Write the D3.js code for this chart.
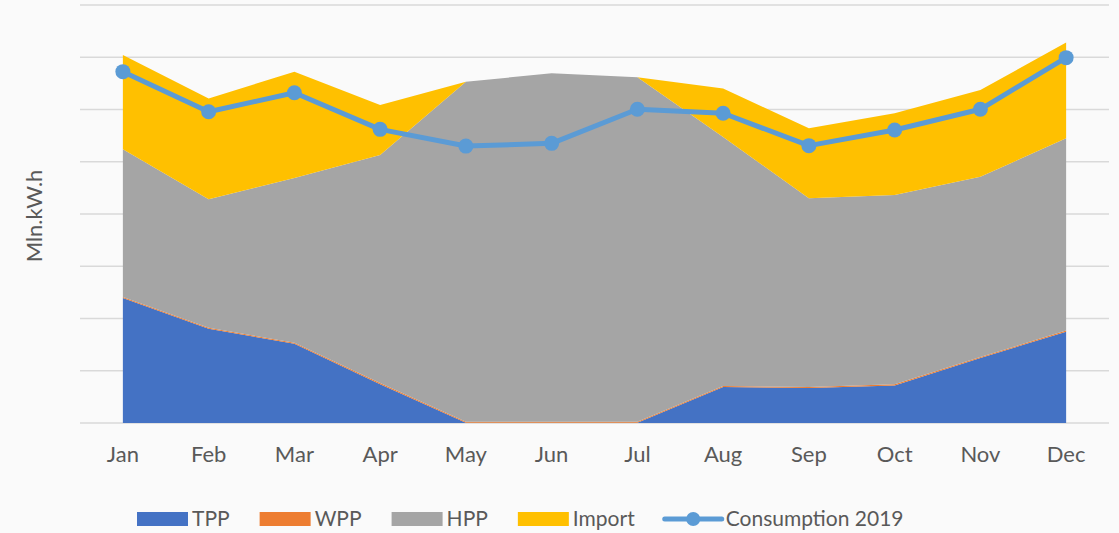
<!DOCTYPE html>
<html>
<head>
<meta charset="utf-8">
<script src="https://cdn.jsdelivr.net/npm/d3@7"></script>
<style>
  body { margin: 0; background: #fafafa; }
  svg { display: block; font-family: Lato, "Open Sans", sans-serif; }
</style>
</head>
<body>
<svg id="chart" width="1119" height="533"></svg>
<script>
// months on the category axis
const months = ["Jan", "Feb", "Mar", "Apr", "May", "Jun", "Jul", "Aug", "Sep", "Oct", "Nov", "Dec"];

// stacked sources, Mln.kW.h
const tpp = [598, 451, 379, 186, 1, 1, 1, 172, 167, 180, 311, 437];
const wpp = [5, 5, 5, 5, 5, 5, 5, 5, 5, 5, 5, 5];
const hpp = [707, 614, 788, 1091, 1627, 1667, 1648, 1191, 903, 906, 862, 920];
const imp = [451, 483, 509, 240, 0, 0, 0, 233, 335, 391, 415, 458];

// consumption line
const consumption = [1681, 1489, 1580, 1405, 1325, 1338, 1501, 1482, 1327, 1402, 1501, 1748];

const yTicks = [0, 250, 500, 750, 1000, 1250, 1500, 1750, 2000];

const seriesKeys = ["TPP", "WPP", "HPP", "Import"];
const colors = { TPP: "#4472C4", WPP: "#ED7D31", HPP: "#A5A5A5", Import: "#FFC000" };
const lineColor = "#5B9BD5";

const rows = months.map((m, i) => ({
  month: m, TPP: tpp[i], WPP: wpp[i], HPP: hpp[i], Import: imp[i], cons: consumption[i]
}));

const svg = d3.select("#chart");
const margin = { left: 80, right: 1109, top: 5, bottom: 423 };

const x = d3.scaleBand().domain(months).range([margin.left, margin.right]);
const cx = d => x(d.data ? d.data.month : d.month) + x.bandwidth() / 2;
const y = d3.scaleLinear().domain([0, 2000]).range([margin.bottom, margin.top]);

// gridlines
svg.append("g")
  .selectAll("line")
  .data(yTicks)
  .join("line")
  .attr("x1", margin.left).attr("x2", margin.right)
  .attr("y1", d => y(d)).attr("y2", d => y(d))
  .attr("stroke", "#d9d9d9")
  .attr("stroke-width", 1.3);

// stacked areas
const stack = d3.stack().keys(seriesKeys);
const layers = stack(rows);

const area = d3.area()
  .x(d => cx(d))
  .y0(d => y(d[0]))
  .y1(d => y(d[1]));

svg.append("g")
  .selectAll("path")
  .data(layers)
  .join("path")
  .attr("fill", d => colors[d.key])
  .attr("d", area);

// consumption line + markers
const line = d3.line().x(d => cx(d)).y(d => y(d.cons));

svg.append("path")
  .datum(rows)
  .attr("fill", "none")
  .attr("stroke", lineColor)
  .attr("stroke-width", 5)
  .attr("stroke-linejoin", "round")
  .attr("d", line);

svg.append("g")
  .selectAll("circle")
  .data(rows)
  .join("circle")
  .attr("cx", d => cx(d))
  .attr("cy", d => y(d.cons))
  .attr("r", 7.5)
  .attr("fill", lineColor);

// x axis labels
const xAxis = svg.append("g")
  .attr("transform", `translate(0,${margin.bottom})`)
  .call(d3.axisBottom(x).tickSize(0).tickPadding(23));
xAxis.select(".domain").remove();
xAxis.selectAll("text")
  .attr("fill", "#595959")
  .style("font-size", "22px")
  .style("font-family", "Lato, 'Open Sans', sans-serif");

// y axis title
svg.append("text")
  .attr("transform", "translate(42,216) rotate(-90)")
  .attr("text-anchor", "middle")
  .attr("fill", "#595959")
  .style("font-size", "22px")
  .text("Mln.kW.h");

// legend
const legendItems = [
  { name: "TPP", type: "rect", color: colors.TPP },
  { name: "WPP", type: "rect", color: colors.WPP },
  { name: "HPP", type: "rect", color: colors.HPP },
  { name: "Import", type: "rect", color: colors.Import },
  { name: "Consumption 2019", type: "line", color: lineColor }
];

const legend = svg.append("g").attr("transform", "translate(137,519)");
let lx = 0;
legendItems.forEach(item => {
  const g = legend.append("g").attr("transform", `translate(${lx},0)`);
  let w;
  if (item.type === "rect") {
    w = 51;
    g.append("rect").attr("x", 0).attr("y", -7).attr("width", w).attr("height", 14).attr("fill", item.color);
  } else {
    w = 57;
    g.append("line").attr("x1", 0).attr("x2", w).attr("y1", 0).attr("y2", 0)
      .attr("stroke", item.color).attr("stroke-width", 5).attr("stroke-linecap", "round");
    g.append("circle").attr("cx", w / 2).attr("cy", 0).attr("r", 7).attr("fill", item.color);
  }
  const t = g.append("text")
    .attr("x", w + 4)
    .attr("y", 0)
    .attr("dy", "0.35em")
    .attr("fill", "#595959")
    .style("font-size", "21px")
    .text(item.name);
  lx += w + 4 + t.node().getComputedTextLength() + 30;
});
</script>
</body>
</html>
